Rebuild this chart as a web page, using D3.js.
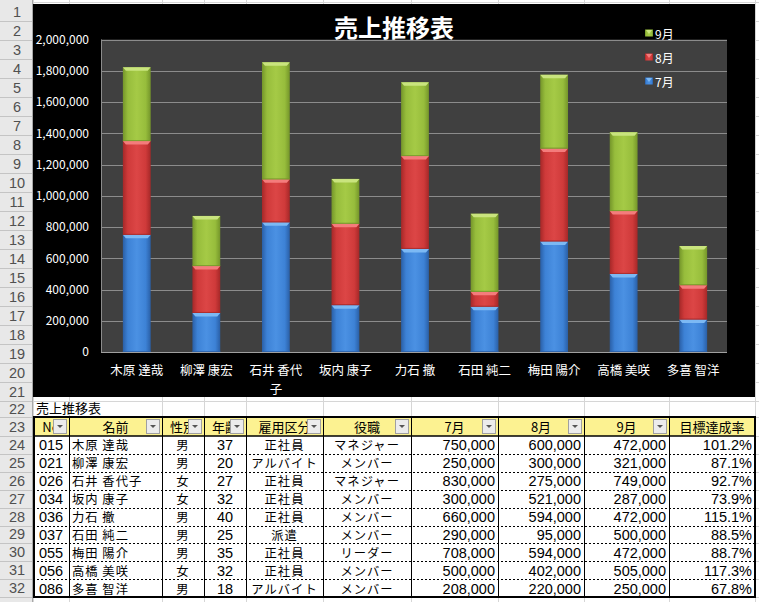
<!DOCTYPE html>
<html><head><meta charset="utf-8">
<script src="https://cdn.jsdelivr.net/npm/d3@7"></script>
<style>html,body{margin:0;padding:0;background:#fff;} svg{display:block;font-family:"Noto Sans CJK JP","Noto Sans",sans-serif;}</style>
</head><body><svg id="c" width="759" height="602"></svg>
<script>
// ---- data ----
const chartTitle = "売上推移表";
const names = ["木原 達哉","柳澤 康宏","石井 香代子","坂内 康子","力石 撤","石田 純二","梅田 陽介","高橋 美咲","多喜 智洋"];
const ids = ["015","021","026","034","036","037","055","056","086"];
const genders = ["男","男","女","女","男","男","男","女","男"];
const ages = [37,20,27,32,40,25,35,32,18];
const employment = ["正社員","アルバイト","正社員","正社員","正社員","派遣","正社員","正社員","アルバイト"];
const roles = ["マネジャー","メンバー","マネジャー","メンバー","メンバー","メンバー","リーダー","メンバー","メンバー"];
const jul = [750000,250000,830000,300000,660000,290000,708000,500000,208000];
const aug = [600000,300000,275000,521000,594000,95000,594000,402000,220000];
const sep = [472000,321000,749000,287000,472000,500000,472000,505000,250000];
const rates = [101.2,87.1,92.7,73.9,115.1,88.5,88.7,117.3,67.8];
const seriesNames = ["7月","8月","9月"];
const yTicks = [0,200000,400000,600000,800000,1000000,1200000,1400000,1600000,1800000,2000000];
const headers = ["No","名前","性別","年齢","雇用区分","役職","7月","8月","9月","目標達成率"];

const svg = d3.select("#c");
const W = 759, H = 602;
const fmt = d3.format(",");
const LAT = '"Liberation Sans",Arial,sans-serif';

// ---- sheet geometry ----
const colEdges = [33,69,162,204,246,323,411,498,584,669,755];
function rowTop(n){ if(n<=22) return 2+(n-1)*19; if(n===23) return 417; return 436+(n-24)*17.9; }
function rowBot(n){ if(n<=21) return rowTop(n)+19; if(n===22) return 417; if(n===23) return 436; return rowTop(n)+17.9; }

svg.append("rect").attr("width",W).attr("height",H).attr("fill","#fff");
const grid = svg.append("g").attr("stroke","#d6d6d6").attr("stroke-width",1);
colEdges.forEach(x=>{ grid.append("line").attr("x1",x+0.5).attr("x2",x+0.5).attr("y1",0).attr("y2",H); });
for(let n=1;n<=33;n++){ const y=Math.round(rowTop(n))+0.5; grid.append("line").attr("x1",33).attr("x2",W).attr("y1",y).attr("y2",y); }

// row headers
const rh = svg.append("g");
rh.append("rect").attr("x",0).attr("y",0).attr("width",33).attr("height",H).attr("fill","#e8e8e8");
for(let n=1;n<=33;n++){
  const t=rowTop(n), b = n<=32?rowBot(n):H;
  rh.append("line").attr("x1",0).attr("x2",33).attr("y1",Math.round(b)+0.5).attr("y2",Math.round(b)+0.5).attr("stroke","#c4c4c4");
  if(n<=32) rh.append("text").attr("x",17).attr("y",(t+b)/2).attr("dominant-baseline","central").attr("text-anchor","middle")
    .attr("font-size",14.5).attr("font-family",LAT).attr("fill","#505050").text(n);
}
rh.append("line").attr("x1",32.5).attr("x2",32.5).attr("y1",0).attr("y2",H).attr("stroke","#a8a8a8");

// ---- chart ----
const chart = svg.append("g");
chart.append("rect").attr("x",33).attr("y",4).attr("width",722).attr("height",393).attr("fill","#000");
const plotL=101, plotR=727, plotT=39.5, plotB=352;
chart.append("rect").attr("x",plotL).attr("y",plotT).attr("width",plotR-plotL).attr("height",plotB-plotT).attr("fill","#404040");

const x = d3.scaleBand().domain(names).range([plotL+1,plotR+1]).paddingInner(0.6).paddingOuter(0.3);
const y = d3.scaleLinear().domain([0,2000000]).range([plotB,plotT]);

chart.append("g").selectAll("line").data(yTicks.filter(d=>d>0)).join("line")
  .attr("x1",plotL).attr("x2",plotR).attr("y1",d=>Math.round(y(d))+0.5).attr("y2",d=>Math.round(y(d))+0.5)
  .attr("stroke","#8c8c8c").attr("stroke-width",1);
chart.append("line").attr("x1",plotL).attr("x2",plotR).attr("y1",plotB+0.5).attr("y2",plotB+0.5).attr("stroke","#a0a0a0");
chart.append("line").attr("x1",plotL+0.5).attr("x2",plotL+0.5).attr("y1",plotT).attr("y2",plotB).attr("stroke","#8c8c8c");

const yAxis = chart.append("g").attr("transform",`translate(${plotL},0)`)
  .call(d3.axisLeft(y).tickValues(yTicks).tickFormat(fmt).tickSize(0).tickPadding(12));
yAxis.select(".domain").remove();
yAxis.selectAll("text").attr("fill","#fff").attr("font-size",12).attr("font-family",'"Noto Sans CJK JP",sans-serif');

const colors = [
  {edge:"#2a5fa6", mid:"#3d82d6", light:"#4b91e3", top:"#7cb9f4"},
  {edge:"#a52828", mid:"#cf3a3a", light:"#dc4646", top:"#f47c7c"},
  {edge:"#74952a", mid:"#97bd3c", light:"#a5ca46", top:"#c9e47e"}
];
const defs = svg.append("defs");
colors.forEach((c,i)=>{
  const g = defs.append("linearGradient").attr("id","g"+i).attr("x1","0").attr("x2","1").attr("y1","0").attr("y2","0");
  [[0,c.edge],[0.18,c.mid],[0.5,c.light],[0.82,c.mid],[1,c.edge]].forEach(s=>g.append("stop").attr("offset",s[0]).attr("stop-color",s[1]));
});

const tableData = names.map((n,i)=>({name:n, jul:jul[i], aug:aug[i], sep:sep[i]}));
const stacked = d3.stack().keys(["jul","aug","sep"])(tableData);
const bw = x.bandwidth();
stacked.forEach((layer,li)=>{
  const g = chart.append("g");
  layer.forEach(d=>{
    const x0 = x(d.data.name), y1 = y(d[1]), y0 = y(d[0]);
    g.append("rect").attr("x",x0).attr("y",y1).attr("width",bw).attr("height",y0-y1).attr("fill",`url(#g${li})`);
    g.append("path").attr("d",`M${x0},${y1}L${x0+bw},${y1}L${x0+bw-3},${y1+3.5}L${x0+3},${y1+3.5}Z`).attr("fill",colors[li].top);
    g.append("rect").attr("x",x0).attr("y",y0-1).attr("width",bw).attr("height",1).attr("fill",colors[li].edge).attr("opacity",0.8);
  });
});

// x labels with wrapping
const xl = chart.append("g").attr("fill","#fff").attr("font-size",12.5);
names.forEach(n=>{
  const cx = x(n)+bw/2;
  const t = xl.append("text").attr("x",cx).attr("y",369).attr("text-anchor","middle").attr("dominant-baseline","central").text(n);
  const maxW = x.step()-7;
  if(t.node().getComputedTextLength()>maxW){
    let first=[...n], rest=[];
    while(first.length>1){ rest.unshift(first.pop()); t.text(first.join("")); if(t.node().getComputedTextLength()<=maxW) break; }
    xl.append("text").attr("x",cx).attr("y",388).attr("text-anchor","middle").attr("dominant-baseline","central").text(rest.join(""));
  }
});

chart.append("text").attr("x",394).attr("y",26).attr("text-anchor","middle").attr("dominant-baseline","central")
  .attr("font-size",24).attr("font-weight","bold").attr("fill","#fff").text(chartTitle);

const legY = [33,57,81];
seriesNames.slice().reverse().forEach((s,i)=>{
  const li = 2-i;
  const g = chart.append("g");
  g.append("rect").attr("x",645).attr("y",legY[i]-3.5).attr("width",8).attr("height",7).attr("fill",`url(#g${li})`);
  g.append("path").attr("d",`M646,${legY[i]-3}L652,${legY[i]-3}L649,${legY[i]+1}Z`).attr("fill",colors[li].top);
  g.append("text").attr("x",655).attr("y",legY[i]).attr("dominant-baseline","central").attr("font-size",12).attr("fill","#fff").text(s);
});

// ---- table ----
const tb = svg.append("g");
tb.append("text").attr("x",36).attr("y",407.5).attr("dominant-baseline","central").attr("font-size",13).attr("fill","#000").text(chartTitle);
tb.append("rect").attr("x",33).attr("y",417).attr("width",722).attr("height",19).attr("fill","#fcf291");
tb.append("rect").attr("x",33).attr("y",436).attr("width",722).attr("height",161).attr("fill","#fff");

headers.forEach((h,i)=>{
  const l=colEdges[i], r=colEdges[i+1];
  tb.append("text").attr("x",(l+r)/2).attr("y",426.5).attr("text-anchor","middle").attr("dominant-baseline","central")
    .attr("font-size",13).attr("fill","#000").text(h);
});
headers.forEach((h,i)=>{
  if(i===headers.length-1) return;
  const r=colEdges[i+1];
  const g = tb.append("g");
  g.append("rect").attr("x",r-15.5).attr("y",419.5).attr("width",13).attr("height",14).attr("fill","#ececec").attr("stroke","#a0a0a0");
  g.append("path").attr("d",`M${r-12},${425}L${r-6},${425}L${r-9},${428}Z`).attr("fill","#555");
});

const rowsData = names.map((n,i)=>[ids[i], n, genders[i], ages[i], employment[i], roles[i], fmt(jul[i]), fmt(aug[i]), fmt(sep[i]), rates[i].toFixed(1)+"%"]);
const align = ["middle","start","middle","middle","middle","middle","end","end","end","end"];
const latin = [true,false,false,true,false,false,true,true,true,true];
rowsData.forEach((row,ri)=>{
  const n = 24+ri, cy = (rowTop(n)+rowBot(n))/2;
  row.forEach((v,ci)=>{
    const l=colEdges[ci], r=colEdges[ci+1];
    const xx = align[ci]==="middle"?(l+r)/2 : align[ci]==="start"? l+3 : r-3;
    const t = tb.append("text").attr("x",xx).attr("y",cy+0.5).attr("text-anchor",align[ci]).attr("dominant-baseline","central")
      .attr("fill","#000").text(v);
    if(latin[ci]) t.attr("font-family",LAT).attr("font-size",14.5);
    else t.attr("font-size",12.3).attr("letter-spacing",1);
  });
});

const bd = tb.append("g").attr("stroke","#000");
for(let n=25;n<=32;n++){ const yy=Math.round(rowTop(n))+0.5; bd.append("line").attr("x1",33).attr("x2",755).attr("y1",yy).attr("y2",yy).attr("stroke-dasharray","2,2"); }
colEdges.slice(1,-1).forEach(xx=>{ bd.append("line").attr("x1",xx+0.5).attr("x2",xx+0.5).attr("y1",417).attr("y2",597); });
bd.append("line").attr("x1",33).attr("x2",756).attr("y1",417).attr("y2",417).attr("stroke-width",2);
bd.append("line").attr("x1",33).attr("x2",756).attr("y1",436).attr("y2",436).attr("stroke-width",1.5);
bd.append("line").attr("x1",33).attr("x2",756).attr("y1",597).attr("y2",597).attr("stroke-width",2);
bd.append("line").attr("x1",34).attr("x2",34).attr("y1",417).attr("y2",597).attr("stroke-width",2);
bd.append("line").attr("x1",755).attr("x2",755).attr("y1",417).attr("y2",597).attr("stroke-width",2);
</script></body></html>
